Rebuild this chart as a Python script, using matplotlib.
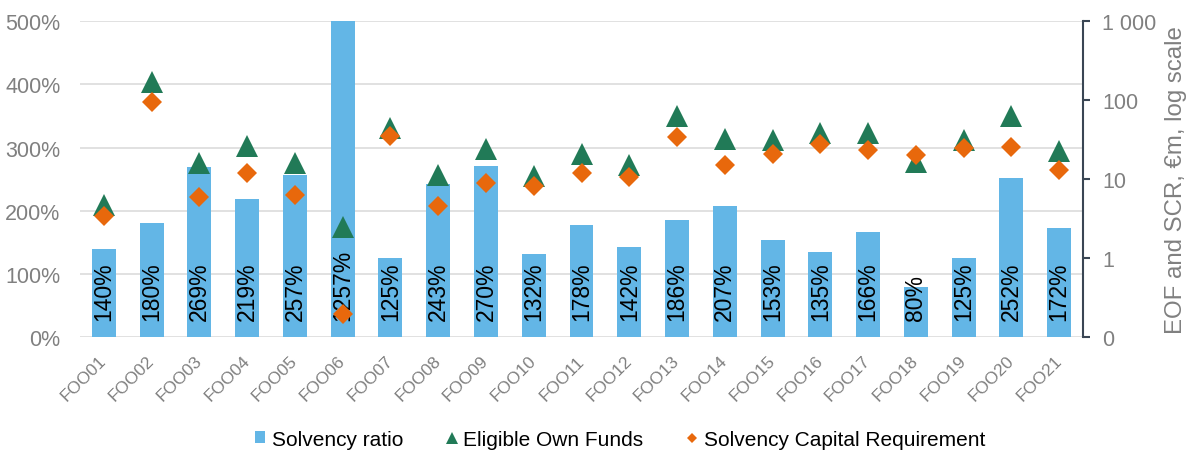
import matplotlib
matplotlib.use("Agg")
import matplotlib.pyplot as plt
from matplotlib.ticker import FixedLocator, FuncFormatter
from matplotlib.lines import Line2D
from matplotlib.patches import Patch
import numpy as np

plt.rcParams['font.family'] = ['Liberation Sans', 'DejaVu Sans']

# Undertakings and their figures
companies = [f"FOO{i:02d}" for i in range(1, 22)]
solvency_ratio = [140, 180, 269, 219, 257, 1257, 125, 243, 270, 132, 178,
                  142, 186, 207, 153, 135, 166, 80, 125, 252, 172]
eligible_own_funds = [4.7, 169, 15.9, 26, 15.9, 2.5, 44, 11.2, 24, 10.9, 20.7,
                      15.0, 63, 32, 31, 38, 38, 16.4, 31, 63, 22.6]
scr = [3.4, 94, 5.9, 11.9, 6.3, 0.195, 35, 4.55, 8.9, 8.15, 11.9,
       10.6, 34, 15.0, 20.7, 27.7, 23.3, 20.1, 24.7, 25.4, 13.0]

BAR_COLOR = '#63B6E6'
EOF_COLOR = '#217A57'
SCR_COLOR = '#E8680C'
GREY = '#808080'

fig = plt.figure(figsize=(11.97, 4.52), dpi=100)
ax = fig.add_axes([0.0668, 0.252, 0.8380, 0.699])
x = np.arange(len(companies))

ax.bar(x, solvency_ratio, width=0.5, color=BAR_COLOR, zorder=2)
ax.set_ylim(0, 500)
ax.set_xlim(-0.5, len(companies) - 0.5)
ax.set_yticks(np.arange(0, 501, 100))
ax.yaxis.set_major_formatter(FuncFormatter(lambda v, p: f"{v:.0f}%"))
ax.yaxis.grid(True, color='#d9d9d9', linewidth=1.1, zorder=0)
ax.set_axisbelow(True)
for side in ['top', 'right', 'left', 'bottom']:
    ax.spines[side].set_visible(False)
ax.tick_params(axis='y', length=0, pad=14, labelsize=15.5, labelcolor=GREY)
ax.tick_params(axis='x', length=0, pad=15)
ax.set_xticks(x)
ax.set_xticklabels(companies, rotation=45, ha='right', va='center',
                   rotation_mode='anchor', fontsize=12.5, color=GREY)

# value labels sit at the base of each bar
for xi, v in zip(x, solvency_ratio):
    ax.annotate(f"{v}%", xy=(xi, 0), xytext=(0, 12), textcoords='offset points',
                rotation=90, ha='center', va='bottom', fontsize=16.5,
                color='black', zorder=3)

# EOF and SCR on a log scale
ax2 = ax.twinx()
ax2.set_yscale('log')
ax2.set_ylim(0.1, 1000)
ax2.plot(x, eligible_own_funds, linestyle='none', marker='^', markersize=15.5,
         color=EOF_COLOR, markeredgewidth=0)
ax2.plot(x, scr, linestyle='none', marker='D', markersize=10.2,
         color=SCR_COLOR, markeredgewidth=0)
ax2.yaxis.set_major_locator(FixedLocator([0.1, 1, 10, 100, 1000]))
ax2.yaxis.set_minor_locator(FixedLocator([]))
ax2.yaxis.set_major_formatter(FuncFormatter(
    lambda v, p: "0" if v < 1 else f"{v:,.0f}".replace(",", " ")))
for side in ['top', 'left', 'bottom']:
    ax2.spines[side].set_visible(False)
ax2.spines['right'].set_color('#3a4654')
ax2.spines['right'].set_linewidth(1.5)
ax2.tick_params(axis='y', which='major', direction='out', length=5, width=1.5,
                color='#3a4654', pad=9, labelsize=15.5, labelcolor=GREY)
ax2.set_ylabel("EOF and SCR, €m, log scale", fontsize=17.3, color=GREY,
               labelpad=6)

handles = [
    Patch(facecolor=BAR_COLOR, label='Solvency ratio'),
    Line2D([], [], linestyle='none', marker='^', markersize=9, color=EOF_COLOR,
           markeredgewidth=0, label='Eligible Own Funds'),
    Line2D([], [], linestyle='none', marker='D', markersize=5.5, color=SCR_COLOR,
           markeredgewidth=0, label='Solvency Capital Requirement'),
]
fig.legend(handles=handles, loc='center', bbox_to_anchor=(0.518, 0.0265),
           ncol=3, frameon=False, fontsize=15, handlelength=0.5,
           handletextpad=0.3, columnspacing=2.1, handleheight=0.5)

fig.savefig("out.png", dpi=100)
